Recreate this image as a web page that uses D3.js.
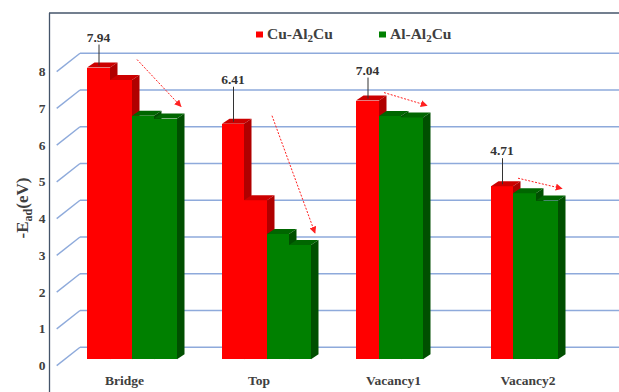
<!DOCTYPE html>
<html>
<head>
<meta charset="utf-8">
<script src="https://cdn.jsdelivr.net/npm/d3@7"></script>
<style>
  html, body { margin: 0; padding: 0; background: #fff; }
  svg { display: block; }
  text { font-family: "Liberation Serif", "Times New Roman", serif; font-weight: bold; }
</style>
</head>
<body>
<svg id="chart" width="619" height="392"></svg>
<script>
// Adsorption energies per site; each series may hold one or two bars per site
const categories = ["Bridge", "Top", "Vacancy1", "Vacancy2"];
const cuValues = [[7.94, 7.60], [6.41, 4.33], [7.04], [4.71]];
const alValues = [[6.63, 6.55], [3.41, 3.11], [6.62, 6.58], [4.52, 4.32]];
const yTicks = [0, 1, 2, 3, 4, 5, 6, 7, 8];
const seriesNames = [["Cu-Al", "2", "Cu"], ["Al-Al", "2", "Cu"]];

const W = 619, H = 392;
const svg = d3.select("#chart");

const colors = {
  cu: { front: "#ff0000", top: "#cc0000", side: "#b00000" },
  al: { front: "#008000", top: "#006600", side: "#004f00" }
};

// back-wall scale (gridlines) and the bars' front plane, a little lower
const yBack = d3.scaleLinear().domain([0, 8]).range([347.3, 53.3]);
const frontDrop = 12;
const yFront = v => yBack(v) + frontDrop;
const wallDx = 23.3, wallDy = 18.3;   // floor depth for the diagonal ticks
const barDx = 7.5, barDy = -5;        // box depth of each bar

const x = d3.scaleBand().domain(categories)
  .range([64.75, 602.75]).paddingInner(0.337).paddingOuter(0.1685);
const slot = d3.scaleBand().domain([0, 1, 2, 3, 4]).range([0, x.bandwidth() * 5 / 4]);

// plot frame
svg.append("line").attr("x1", 49.5).attr("x2", 49.5).attr("y1", 13).attr("y2", H)
  .attr("stroke", "#44546a").attr("stroke-width", 1.3);
svg.append("line").attr("x1", 49).attr("x2", W).attr("y1", 13).attr("y2", 13)
  .attr("stroke", "#44546a").attr("stroke-width", 1.3);

// gridlines on the back wall with diagonal wall ticks
const grid = svg.append("g");
yTicks.forEach(t => {
  const y = yBack(t);
  grid.append("line").attr("x1", 80).attr("x2", W).attr("y1", y).attr("y2", y)
    .attr("stroke", "#8eaadb").attr("stroke-width", 1.4);
  grid.append("line").attr("x1", 80 - wallDx).attr("y1", y + wallDy)
    .attr("x2", 80).attr("y2", y)
    .attr("stroke", "#8eaadb").attr("stroke-width", 1.4);
  grid.append("text").attr("x", 45.5).attr("y", y + wallDy + 4.5)
    .attr("text-anchor", "end").attr("font-size", 13.5).attr("fill", "#404040")
    .text(t);
});

// y-axis title
const yt = svg.append("text")
  .attr("transform", "translate(28,208) rotate(-90)")
  .attr("text-anchor", "middle").attr("font-size", 17).attr("fill", "#404040");
yt.append("tspan").text("-E");
yt.append("tspan").attr("font-size", 12).attr("dy", 4).text("ad");
yt.append("tspan").attr("dy", -4).text("(eV)");

// 3D box bar between whole-pixel edges x0..x1
function box(g, x0, x1, v, c) {
  const yt = yFront(v), yb = yFront(0);
  g.append("rect").attr("x", x0).attr("y", yt).attr("width", x1 - x0).attr("height", yb - yt)
    .attr("fill", c.front).attr("shape-rendering", "crispEdges");
  g.append("path").attr("d",
    `M${x0},${yt}L${x1},${yt}L${x1 + barDx},${yt + barDy}L${x0 + barDx},${yt + barDy}Z`)
    .attr("fill", c.top);
  g.append("path").attr("d",
    `M${x1},${yt}L${x1 + barDx},${yt + barDy}L${x1 + barDx},${yb + barDy}L${x1},${yb}Z`)
    .attr("fill", c.side);
}

// arrow head marker
const defs = svg.append("defs");
defs.append("marker").attr("id", "head").attr("viewBox", "0 0 10 10")
  .attr("refX", 9).attr("refY", 5).attr("markerWidth", 7).attr("markerHeight", 7)
  .attr("markerUnits", "userSpaceOnUse").attr("orient", "auto")
  .append("path").attr("d", "M0,0L10,5L0,10Z").attr("fill", "#ff2020");

const labelLift = [26, 40, 26, 31];
const bars = svg.append("g");
const notes = svg.append("g");

categories.forEach((cat, i) => {
  const g = bars.append("g");
  const x0 = x(cat);
  const edge = j => Math.round(x0 + slot(j));
  const series = [...cuValues[i].map(v => ({ v, c: colors.cu })),
                  ...alValues[i].map(v => ({ v, c: colors.al }))];
  series.forEach((d, j) => box(g, edge(j), edge(j + 1), d.v, d.c));

  // value label for the first Cu bar, with leader line
  const v0 = cuValues[i][0];
  const cx = (edge(0) + edge(1)) / 2;
  const ly = yFront(v0) - labelLift[i];
  notes.append("text").attr("x", cx).attr("y", ly).attr("text-anchor", "middle")
    .attr("font-size", 13.5).attr("fill", "#333").text(v0.toFixed(2));
  notes.append("line").attr("x1", cx + 0.5).attr("x2", cx + 0.5)
    .attr("y1", ly + 3).attr("y2", yFront(v0) - 2)
    .attr("stroke", "#333").attr("stroke-width", 1);

  // trend arrow from the Cu bars down to the last Al bar
  const nCu = cuValues[i].length, nAl = alValues[i].length;
  const sx = edge(nCu) + 5;
  const sy = yFront(d3.max(cuValues[i])) - 8;
  const ex = edge(nCu + nAl) + 4;
  const ey = yFront(alValues[i][nAl - 1]) - 12;
  notes.append("line").attr("x1", sx).attr("y1", sy).attr("x2", ex).attr("y2", ey)
    .attr("stroke", "#ff2020").attr("stroke-width", 1)
    .attr("stroke-dasharray", "2,1.5").attr("marker-end", "url(#head)");

  // category label
  svg.append("text").attr("x", x(cat) + x.bandwidth() / 2 - 7.5).attr("y", 385)
    .attr("text-anchor", "middle").attr("font-size", 13.5).attr("fill", "#404040")
    .text(cat);
});

// legend
const legendX = [256, 379];
[colors.cu, colors.al].forEach((c, i) => {
  const lg = svg.append("g");
  lg.append("rect").attr("x", legendX[i]).attr("y", 31.5).attr("width", 7).attr("height", 6)
    .attr("fill", c.front);
  const t = lg.append("text").attr("x", legendX[i] + 11).attr("y", 38.5)
    .attr("font-size", 15.5).attr("fill", "#404040");
  t.append("tspan").text(seriesNames[i][0]);
  t.append("tspan").attr("font-size", 11).attr("dy", 3.5).text(seriesNames[i][1]);
  t.append("tspan").attr("dy", -3.5).text(seriesNames[i][2]);
});
</script>
</body>
</html>
